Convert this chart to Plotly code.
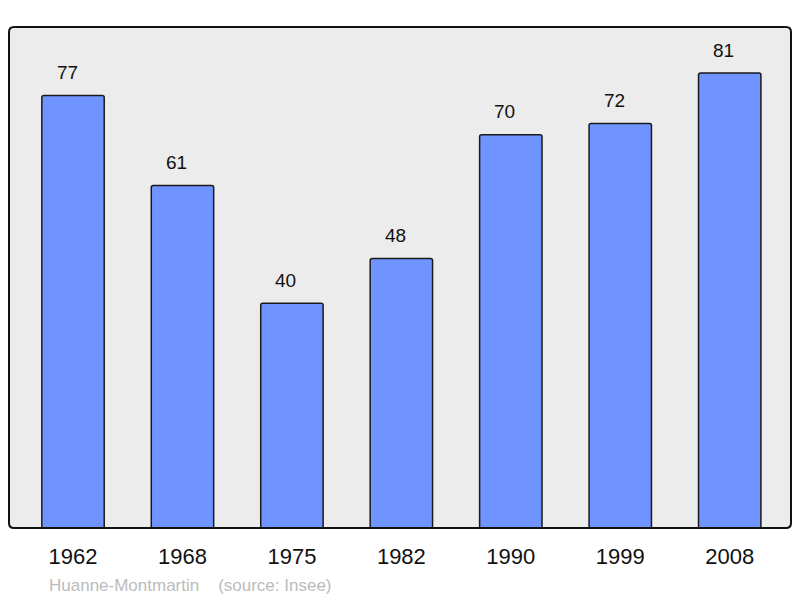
import plotly.graph_objects as go

years = ["1962", "1968", "1975", "1982", "1990", "1999", "2008"]
population = [77, 61, 40, 48, 70, 72, 81]
commune = "Huanne-Montmartin"
source_note = "(source: Insee)"

fig = go.Figure()
fig.add_trace(go.Bar(
    x=years, y=population,
    width=0.57,
    marker=dict(color="#7094ff", line=dict(color="#1a1a1a", width=1.5), cornerradius=2),
    hoverinfo="x+y",
))

# value labels above each bar (x given as category index), a bit left of centre
for i, val in enumerate(population):
    fig.add_annotation(x=i, y=val, text=str(val), showarrow=False,
                       xshift=-6, yshift=23, font=dict(size=19, color="#111"))

fig.add_annotation(xref="paper", yref="paper", x=0.0487, y=-0.1138,
                   xanchor="left", yanchor="middle", showarrow=False,
                   text=commune + "&nbsp;&nbsp;&nbsp;&nbsp;" + source_note,
                   font=dict(size=17, color="#bbbbbb"))

# frame with rounded corners around plot area
rx, ry = 5 / 782, 5 / 501
frame = (f"M {rx},0 L {1-rx},0 Q 1,0 1,{ry} L 1,{1-ry} Q 1,1 {1-rx},1 "
         f"L {rx},1 Q 0,1 0,{1-ry} L 0,{ry} Q 0,0 {rx},0 Z")
fig.add_shape(type="path", path=frame, xref="paper", yref="paper",
              line=dict(color="#111", width=2), layer="above")

fig.update_layout(
    width=784, height=590,
    margin=dict(l=1, r=1, t=19, b=70),
    paper_bgcolor="white", plot_bgcolor="#ececec",
    font=dict(family="Liberation Sans, Arial, sans-serif"),
    showlegend=False,
)
fig.update_xaxes(type="category", range=[-0.585, 6.56], showline=False,
                 showgrid=False, ticks="", ticklabelstandoff=13,
                 tickfont=dict(size=22, color="#111"))
fig.update_yaxes(range=[0, 89.2], showline=False, showgrid=False,
                 showticklabels=False, zeroline=False, ticks="")

fig.write_html("out.html")
